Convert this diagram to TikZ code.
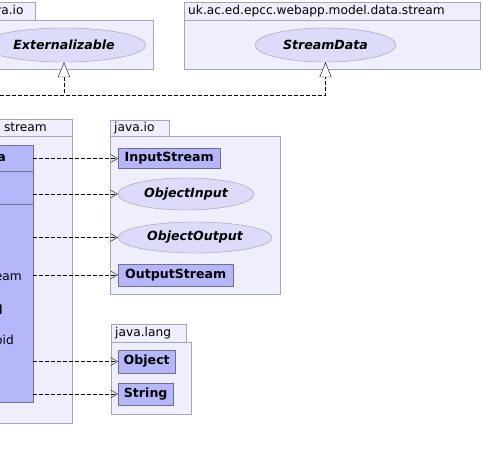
\documentclass[tikz,border=0pt]{standalone}
\usepackage{fontspec}
\setmainfont{DejaVu Sans}
\usetikzlibrary{arrows.meta,shapes.geometric}

\definecolor{pkgfill}{RGB}{238,238,252}
\definecolor{pkgline}{RGB}{165,165,185}
\definecolor{classfill}{RGB}{182,182,250}
\definecolor{classline}{RGB}{110,110,145}
\definecolor{ifacefill}{RGB}{220,220,250}
\definecolor{ifaceline}{RGB}{155,155,175}

\tikzstyle{pkg} = [rectangle, draw=pkgline, fill=pkgfill, anchor=north west, inner sep=0pt]
\tikzstyle{pkgname} = [anchor=west, inner sep=0pt, font=\fontsize{12.2}{14}\selectfont]
\tikzstyle{class} = [rectangle, draw=classline, fill=classfill, anchor=west, inner sep=0pt, font=\fontsize{12.6}{14}\selectfont\bfseries]
\tikzstyle{iface} = [ellipse, draw=ifaceline, fill=ifacefill, inner sep=0pt, font=\fontsize{12.6}{14}\selectfont\bfseries\itshape]
\tikzstyle{dep} = [dash pattern=on 4pt off 2pt, -{Straight Barb[length=7pt,width=8pt]}]
\tikzstyle{realize} = [dash pattern=on 4pt off 2pt, -{Triangle[open,length=15pt,width=12pt,fill=white]}]

\begin{document}
\begin{tikzpicture}[x=1pt, y=-1pt]
  \useasboundingbox (0,0) rectangle (482,460);
  \clip (0,0) rectangle (482,460);

  % packages
  \node (io top tab) [pkg, minimum width=56pt, minimum height=18pt] at (-21,2) {};
  \node (io top) [pkg, minimum width=174pt, minimum height=49pt] at (-21,20) {};
  \node [pkgname] at (-17,11) {java.io};
  \node (stream top) [pkg, minimum width=296pt, minimum height=18pt] at (184,2) {};
  \node (stream top body) [pkg, minimum width=296pt, minimum height=49pt] at (184,20) {};
  \node [pkgname] at (188,11) {uk.ac.ed.epcc.webapp.model.data.stream};
  \node (stream tab) [pkg, minimum width=222pt, minimum height=17pt] at (-150,119) {};
  \node (stream) [pkg, minimum width=222pt, minimum height=287pt] at (-150,136) {};
  \node [pkgname, anchor=east] at (47,127.5) {stream};
  \node (io tab) [pkg, minimum width=59pt, minimum height=16pt] at (110,120) {};
  \node (io) [pkg, minimum width=170pt, minimum height=158pt] at (110,136) {};
  \node [pkgname] at (114,128) {java.io};
  \node (lang tab) [pkg, minimum width=75pt, minimum height=18pt] at (111,324) {};
  \node (lang) [pkg, minimum width=80pt, minimum height=72pt] at (111,342) {};
  \node [pkgname] at (115,333) {java.lang};

  % classes
  \node (Externalizable) [iface, minimum width=164pt, minimum height=34pt] at (64,45) {Externalizable};
  \node (Stream Data) [iface, minimum width=141pt, minimum height=34pt] at (325.5,45) {StreamData};
  \node (Wrapper) [class, anchor=north west, minimum width=183pt, minimum height=257pt] at (-150,145) {};
  \draw [classline] (Wrapper.west |- 0,171) -- (Wrapper.east |- 0,171);
  \draw [classline] (Wrapper.west |- 0,204) -- (Wrapper.east |- 0,204);
  \node [pkgname, anchor=east, font=\fontsize{12.6}{14}\selectfont\bfseries] at (6,158) {a};
  \node [pkgname, anchor=east] at (22,277) {eam};
  \node [pkgname, anchor=east, font=\fontsize{12.6}{14}\selectfont\bfseries] at (3,310) {l};
  \node [pkgname, anchor=east] at (14,340) {oid};

  \node (Input Stream) [class, minimum width=102pt, minimum height=20pt] at (118,158.5) {InputStream};
  \node (Object Input) [iface, minimum width=136pt, minimum height=32pt] at (186,194) {ObjectInput};
  \node (Object Output) [iface, minimum width=154pt, minimum height=31pt] at (195,237.5) {ObjectOutput};
  \node (Output Stream) [class, minimum width=115pt, minimum height=22pt] at (118,275) {OutputStream};
  \node (Object) [class, minimum width=57pt, minimum height=23pt] at (118,361.5) {Object};
  \node (String) [class, minimum width=55pt, minimum height=22pt] at (118,394) {String};

  % connectors
  \coordinate (bus) at (0,95);
  \draw [realize] (Wrapper.north) |- (bus) -| (Externalizable.south);
  \draw [realize] (bus) -| (Stream Data.south);
  \draw [dep] (Wrapper.east |- Input Stream.west) -- (Input Stream.west);
  \draw [dep] (Wrapper.east |- Object Input.west) -- (Object Input.west);
  \draw [dep] (Wrapper.east |- Object Output.west) -- (Object Output.west);
  \draw [dep] (Wrapper.east |- Output Stream.west) -- (Output Stream.west);
  \draw [dep] (Wrapper.east |- Object.west) -- (Object.west);
  \draw [dep] (Wrapper.east |- String.west) -- (String.west);
\end{tikzpicture}
\end{document}
